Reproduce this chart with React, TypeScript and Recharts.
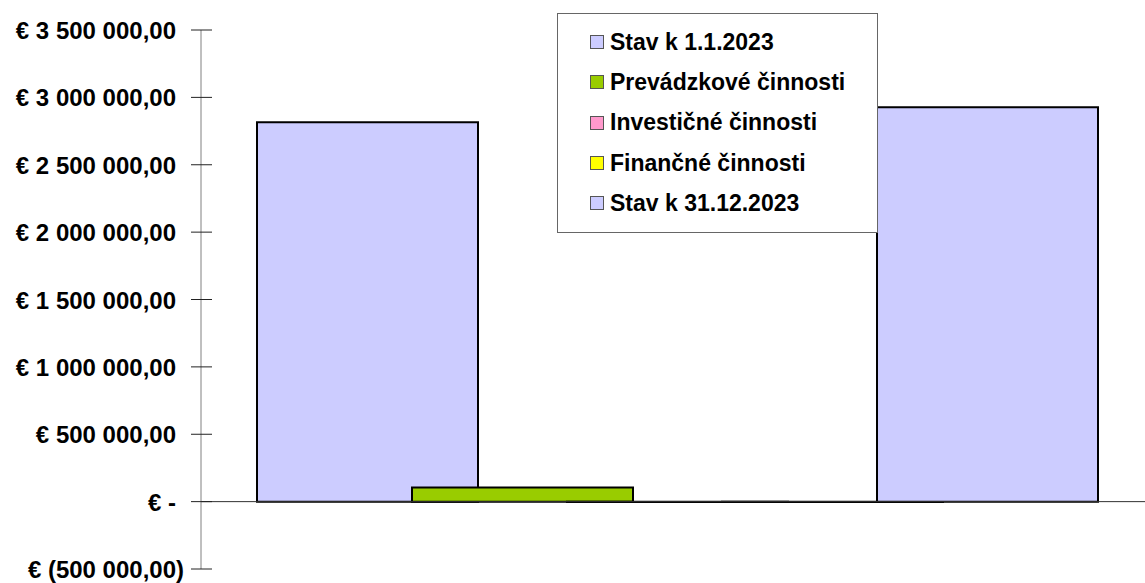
import { BarChart, Bar, XAxis, YAxis, ReferenceLine, Legend } from "recharts";

const seriesNames = [
  "Stav k 1.1.2023",
  "Prevádzkové činnosti",
  "Investičné činnosti",
  "Finančné činnosti",
  "Stav k 31.12.2023",
];
const seriesKeys = ["s1", "s2", "s3", "s4", "s5"];
const seriesValues = [2816000, 104000, -3000, -2000, 2927000];
const seriesColors = ["#ccccff", "#99cc00", "#ff99cc", "#ffff00", "#ccccff"];
const yTicks = [-500000, 0, 500000, 1000000, 1500000, 2000000, 2500000, 3000000, 3500000];

const FONT = "'Liberation Sans', Arial, sans-serif";
const AXIS_X = 201;

// one category, one bar per series
const row: Record<string, string | number> = { name: "" };
seriesKeys.forEach((k, i) => (row[k] = seriesValues[i]));
const data = [row];

function fmt(v: number) {
  if (v === 0) return "€ -";
  const s = Math.abs(v)
    .toFixed(2)
    .replace(".", ",")
    .replace(/\B(?=(\d{3})+(?!\d))/g, " ");
  return v < 0 ? `€ (${s})` : `€ ${s}`;
}

function YTick({ y, payload }: any) {
  const v = payload.value as number;
  return (
    <g>
      <line x1={AXIS_X - 10} x2={AXIS_X + 11} y1={y} y2={y} stroke="#222" strokeWidth={1} />
      <text
        x={v < 0 ? 184 : 176}
        y={y}
        dy={9}
        textAnchor="end"
        fontFamily={FONT}
        fontWeight="bold"
        fontSize={24}
        fill="#000"
      >
        {fmt(v)}
      </text>
    </g>
  );
}

function LegendBox() {
  return (
    <div
      style={{
        width: 319,
        height: 210,
        border: "1px solid #666",
        background: "#fff",
        boxSizing: "content-box",
        paddingTop: 8,
      }}
    >
      {seriesNames.map((n, i) => (
        <div
          key={n}
          style={{
            display: "flex",
            alignItems: "center",
            height: 40.3,
            paddingLeft: 32,
            fontFamily: FONT,
            fontWeight: "bold",
            fontSize: 23,
            color: "#000",
            whiteSpace: "nowrap",
          }}
        >
          <span
            style={{
              display: "inline-block",
              width: 12,
              height: 12,
              border: "1px solid #555",
              background: seriesColors[i],
              marginRight: 6,
            }}
          />
          {n}
        </div>
      ))}
    </div>
  );
}

export default function App() {
  return (
    <div style={{ position: "absolute", left: 0, top: 0, background: "#fff" }}>
      <BarChart
        width={1145}
        height={583}
        data={data}
        margin={{ top: 30, right: 0, bottom: 14, left: 0 }}
        barSize={221}
        barGap={-66}
      >
        <XAxis dataKey="name" hide padding={{ left: 9, right: 0 }} />
        <YAxis
          width={AXIS_X}
          domain={[-500000, 3500000]}
          ticks={yTicks}
          interval={0}
          axisLine={{ stroke: "#808080" }}
          tickLine={false}
          tick={<YTick />}
        />
        <ReferenceLine y={0} stroke="#303030" strokeWidth={1} ifOverflow="visible" />
        {seriesKeys.map((k, i) => (
          <Bar
            key={k}
            dataKey={k}
            name={seriesNames[i]}
            fill={seriesColors[i]}
            stroke="#000"
            strokeWidth={2}
            isAnimationActive={false}
          />
        ))}
        <Legend
          layout="vertical"
          align="center"
          verticalAlign="middle"
          content={() => <LegendBox />}
          wrapperStyle={{ position: "absolute", left: 557, top: 13, width: 321, height: 220 }}
        />
      </BarChart>
    </div>
  );
}
